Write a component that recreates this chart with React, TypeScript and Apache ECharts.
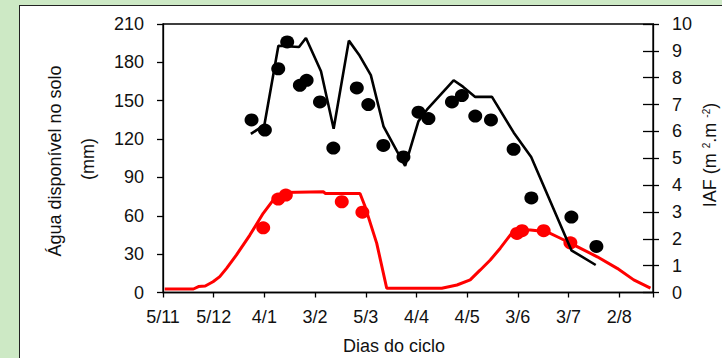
import React, { useEffect, useRef } from "react";
import * as echarts from "echarts";

const xTickLabels = ["5/11", "5/12", "4/1", "3/2", "5/3", "4/4", "4/5", "3/6", "3/7", "2/8"];

// Simulated available soil water (mm) – black line
const aguaSimDays = [52, 60, 68.3, 80.5, 84.6, 93.5, 101, 110, 116, 123, 130.5, 138.3, 143.3, 151.2, 156.2, 172, 177.5, 184.8, 194.7, 207.6, 217.9, 241.7, 256.1];
const aguaSimVals = [124, 131, 193, 192, 199, 173, 128, 197, 186, 170, 130, 111, 99, 134, 143, 166, 161, 153, 153, 125, 106, 33, 21.5];

// Observed available soil water (mm) – black dots
const aguaObsDays = [52.4, 60.3, 68.2, 73.5, 81, 85, 92.9, 100.8, 114.7, 121.5, 130.4, 142.3, 151.2, 157.1, 171, 176.9, 184.8, 194.1, 207.5, 218, 241.7, 256.5];
const aguaObsVals = [135, 127, 175, 196, 162, 166, 149, 113, 160, 147, 115, 106, 141, 136, 149, 154, 138, 135, 112, 74, 59, 36];

// Simulated leaf area index – red line
const iafSimDays = [1, 18, 21, 25, 29.6, 33.6, 37.6, 43.5, 51.4, 59.3, 65.2, 71.1, 95, 96, 116.6, 119.6, 126.5, 132.4, 165, 174, 181.8, 187.8, 193.7, 199.6, 205.5, 209.5, 217.4, 227.3, 235.2, 245.1, 257, 268.8, 278.6, 288.5];
const iafSimVals = [0.13, 0.13, 0.22, 0.24, 0.4, 0.59, 0.9, 1.4, 2.14, 2.95, 3.44, 3.72, 3.75, 3.69, 3.69, 3.2, 1.83, 0.16, 0.16, 0.28, 0.47, 0.84, 1.21, 1.65, 2.14, 2.33, 2.33, 2.26, 2.02, 1.71, 1.33, 0.9, 0.47, 0.16];

// Observed leaf area index – red dots
const iafObsDays = [59.3, 68.2, 72.7, 105.8, 118, 209.5, 212.5, 225.3, 241.1];
const iafObsVals = [2.41, 3.48, 3.63, 3.38, 2.99, 2.2, 2.3, 2.3, 1.85];

const zip = (a: number[], b: number[]) => a.map((v, i) => [v, b[i]]);

const FONT = "Liberation Sans, Arial, sans-serif";
const TXT = "#111";

export default function App() {
  const ref = useRef<HTMLDivElement>(null);

  useEffect(() => {
    document.body.style.margin = "0";
    const chart = echarts.init(ref.current!, null, { renderer: "svg" });
    const axisLine = { show: true, lineStyle: { color: "#000", width: 1.3 } };
    chart.setOption({
      animation: false,
      grid: {
        left: 163,
        right: 69,
        top: 24,
        bottom: 65.5,
        show: true,
        borderColor: "#000",
        borderWidth: 1.3,
        backgroundColor: "transparent",
      },
      xAxis: {
        type: "value",
        min: 0,
        max: 290,
        interval: 30,
        axisLine,
        axisTick: { show: true, inside: false, length: 5, lineStyle: { color: "#000", width: 1.3 } },
        axisLabel: {
          margin: 15,
          color: TXT,
          fontFamily: FONT,
          fontSize: 18,
          formatter: (v: number) => (v % 30 === 0 && v / 30 < xTickLabels.length ? xTickLabels[v / 30] : ""),
        },
        splitLine: { show: false },
      },
      yAxis: [
        {
          type: "value",
          min: 0,
          max: 210,
          interval: 30,
          position: "left",
          axisLine,
          axisTick: { show: true, inside: false, length: 6, lineStyle: { color: "#000", width: 1.3 } },
          axisLabel: { margin: 19, color: TXT, fontFamily: FONT, fontSize: 18 },
          splitLine: { show: false },
        },
        {
          type: "value",
          min: 0,
          max: 10,
          interval: 1,
          position: "right",
          axisLine,
          axisTick: { show: true, inside: false, length: 6, lineStyle: { color: "#000", width: 1.3 } },
          axisLabel: { margin: 19, color: TXT, fontFamily: FONT, fontSize: 18 },
          splitLine: { show: false },
        },
        {
          type: "value",
          min: 0,
          max: 10,
          interval: 1,
          position: "right",
          axisLine: { show: false },
          axisTick: { show: true, inside: true, length: 10, lineStyle: { color: "#000", width: 1.3 } },
          axisLabel: { show: false },
          splitLine: { show: false },
        },
      ],
      series: [
        {
          type: "line",
          yAxisIndex: 1,
          data: zip(iafSimDays, iafSimVals),
          showSymbol: false,
          symbol: "none",
          lineStyle: { color: "#ff0000", width: 3 },
          z: 2,
        },
        {
          type: "scatter",
          yAxisIndex: 1,
          data: zip(iafObsDays, iafObsVals),
          symbol: "circle",
          symbolSize: [14, 13],
          itemStyle: { color: "#ff0000", opacity: 1 },
          z: 3,
        },
        {
          type: "line",
          yAxisIndex: 0,
          data: zip(aguaSimDays, aguaSimVals),
          showSymbol: false,
          symbol: "none",
          lineStyle: { color: "#000", width: 2.6 },
          z: 4,
        },
        {
          type: "scatter",
          yAxisIndex: 0,
          data: zip(aguaObsDays, aguaObsVals),
          symbol: "circle",
          symbolSize: [14, 13],
          itemStyle: { color: "#000", opacity: 1 },
          z: 5,
        },
      ],
      graphic: [
        {
          type: "text",
          x: 55,
          y: 161,
          rotation: Math.PI / 2,
          style: { text: "Água disponível no solo", font: `18px ${FONT}`, fill: TXT, align: "center", verticalAlign: "middle" },
        },
        {
          type: "text",
          x: 88,
          y: 159,
          rotation: Math.PI / 2,
          style: { text: "(mm)", font: `18px ${FONT}`, fill: TXT, align: "center", verticalAlign: "middle" },
        },
        {
          type: "text",
          x: 394,
          y: 346,
          style: { text: "Dias do ciclo", font: `18px ${FONT}`, fill: TXT, align: "center", verticalAlign: "middle" },
        },
        {
          type: "text",
          x: 710,
          y: 155,
          rotation: Math.PI / 2,
          style: {
            text: "{a|IAF (m }{s|2}{a|.m }{s|-2}{a|)}",
            align: "center",
            verticalAlign: "middle",
            rich: {
              a: { fontFamily: FONT, fontSize: 18, fill: TXT, color: TXT, lineHeight: 18, verticalAlign: "bottom" },
              s: { fontFamily: FONT, fontSize: 10, fill: TXT, color: TXT, lineHeight: 18, verticalAlign: "top" },
            },
          },
        },
      ],
    });
    return () => chart.dispose();
  }, []);

  return (
    <div style={{ position: "relative", width: 722, height: 358, background: "#cde9c5", overflow: "hidden" }}>
      <div
        style={{
          position: "absolute",
          left: 19,
          top: 5,
          width: 722,
          height: 400,
          background: "#fff",
          border: "1.5px solid #222",
          boxSizing: "border-box",
        }}
      />
      <div ref={ref} style={{ position: "absolute", left: 0, top: 0, width: 722, height: 358 }} />
    </div>
  );
}
